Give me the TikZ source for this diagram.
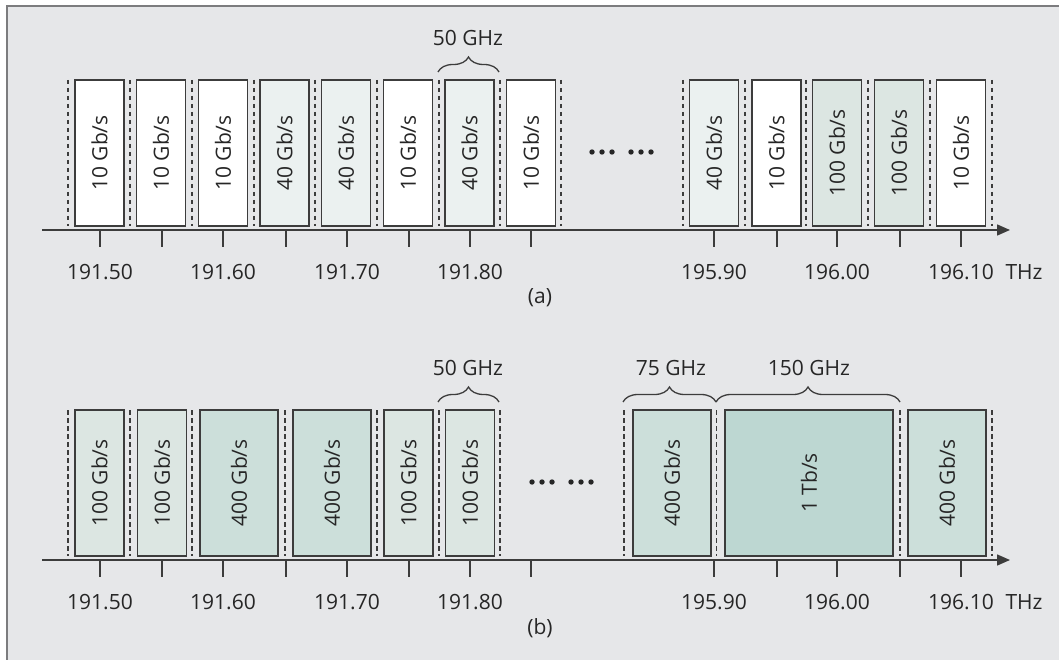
\documentclass[tikz,border=0pt]{standalone}
\usepackage{fontspec}
\setmainfont{Open Sans}
\usetikzlibrary{arrows.meta, positioning, decorations.pathreplacing}

\definecolor{bgray}{HTML}{E6E7E9}
\definecolor{frameline}{HTML}{7C7C7E}
\definecolor{ink}{HTML}{3C3C3C}
\definecolor{txt}{HTML}{262626}
\definecolor{ch10}{HTML}{FFFFFF}
\definecolor{ch40}{HTML}{EBF1F0}
\definecolor{ch100}{HTML}{DCE6E2}
\definecolor{ch400}{HTML}{CCDFDA}
\definecolor{ch1t}{HTML}{BDD7D2}

\tikzset{
    chan/.style={rectangle, draw=ink, line width=1.4pt, rotate=90, minimum width=146pt, minimum height=49pt, inner sep=0pt, text=txt, font=\fontsize{21}{25}\selectfont},
    grid/.style={draw=ink, line width=1.2pt, dash pattern=on 4.5pt off 3.5pt},
    axis/.style={draw=ink, line width=1.5pt},
    tick/.style={draw=ink, line width=1.3pt},
    lbl/.style={text=txt, font=\fontsize{21}{25}\selectfont, inner sep=0pt},
    gbrace/.style={draw=ink, line width=1.3pt, decorate, decoration={brace, amplitude=15pt}}
}

\begin{document}
\begin{tikzpicture}[x=1pt, y=-1pt]
    % Background and frame
    \useasboundingbox (0,0) rectangle (1059,660);
    \fill[bgray] (7,6) rectangle (1059,660);
    \draw[frameline, line width=2pt] (7,660) -- (7,6) -- (1059,6);

    % ---------- (a) fixed grid ----------
    \foreach \x in {68,130,192,254,315,377,439,500,561,683,745,806,868,930,992}
        \draw[grid] (\x,80) -- (\x,226);

    \node[chan, fill=ch10] (a1) at (99.5,153) {10 Gb/s};
    \node[chan, fill=ch10] (a2) at (161,153) {10 Gb/s};
    \node[chan, fill=ch10] (a3) at (223,153) {10 Gb/s};
    \node[chan, fill=ch40] (a4) at (284.5,153) {40 Gb/s};
    \node[chan, fill=ch40] (a5) at (346,153) {40 Gb/s};
    \node[chan, fill=ch10] (a6) at (408,153) {10 Gb/s};
    \node[chan, fill=ch40] (a7) at (469.5,153) {40 Gb/s};
    \node[chan, fill=ch10] (a8) at (531,153) {10 Gb/s};
    \node[chan, fill=ch40] (a9) at (714,153) {40 Gb/s};
    \node[chan, fill=ch10] (a10) at (776.5,153) {10 Gb/s};
    \node[chan, fill=ch100] (a11) at (837,153) {100 Gb/s};
    \node[chan, fill=ch100] (a12) at (899,153) {100 Gb/s};
    \node[chan, fill=ch10] (a13) at (961,153) {10 Gb/s};

    \foreach \x in {592,602,612,631,641,651}
        \fill[txt] (\x,152) circle (2.7pt);

    % brace over one slot
    \coordinate (ga1) at (438,72);
    \coordinate (ga2) at (499,72);
    \draw[gbrace] (ga1) -- (ga2);
    \node[lbl] (ga) at (468,38) {50 GHz};

    % axis
    \coordinate (xa0) at (42,230);
    \coordinate (xa1) at (1010,230);
    \draw[axis, -{Triangle[length=13pt, width=11pt]}] (xa0) -- (xa1);
    \foreach \x in {100,162,223,286,347,409,470,531,714,777,837,900,961}
        \draw[tick] (\x,231) -- (\x,247);
    \foreach \x/\f [count=\i] in {100/191.50, 223/191.60, 347/191.70, 470/191.80, 714/195.90, 837/196.00, 961/196.10}
        \node[lbl] (fa\i) at (\x,272) {\f};
    \node[lbl] (ua) at (1024,272) {THz};
    \node[lbl] (capa) at (540,298) {(a)};

    % ---------- (b) flexible grid ----------
    \foreach \x in {68,130,192,285,377,439,500,624,716.5,900}
        \draw[grid] (\x,410) -- (\x,556);
    \draw[grid, line width=2.6pt] (992,410) -- (992,556);

    \node[chan, fill=ch100] (b1) at (99.5,483) {100 Gb/s};
    \node[chan, fill=ch100] (b2) at (162,483) {100 Gb/s};
    \node[chan, fill=ch400, minimum height=78pt] (b3) at (239,483) {400 Gb/s};
    \node[chan, fill=ch400, minimum height=78pt] (b4) at (332,483) {400 Gb/s};
    \node[chan, fill=ch100] (b5) at (408.5,483) {100 Gb/s};
    \node[chan, fill=ch100] (b6) at (470,483) {100 Gb/s};
    \node[chan, fill=ch400, minimum height=78pt] (b7) at (672,483) {400 Gb/s};
    \node[chan, fill=ch1t, minimum height=168pt] (b8) at (809,483) {1 Tb/s};
    \node[chan, fill=ch400, minimum height=78pt] (b9) at (947,483) {400 Gb/s};

    \foreach \x in {532,542,552,571,581,591}
        \fill[txt] (\x,482) circle (2.7pt);

    % braces over slots of different widths
    \coordinate (gb1) at (438,402);
    \coordinate (gb2) at (499,402);
    \coordinate (gb3) at (623,402);
    \coordinate (gb4) at (716,402);
    \coordinate (gb5) at (900,402);
    \draw[gbrace] (gb1) -- (gb2);
    \draw[gbrace] (gb3) -- (gb4);
    \draw[gbrace] (gb4) -- (gb5);
    \node[lbl] (gbx) at (468,368) {50 GHz};
    \node[lbl] (gby) at (671,368) {75 GHz};
    \node[lbl] (gbz) at (809,368) {150 GHz};

    % axis
    \coordinate (xb0) at (42,560);
    \coordinate (xb1) at (1010,560);
    \draw[axis, -{Triangle[length=13pt, width=11pt]}] (xb0) -- (xb1);
    \foreach \x in {100,162,223,286,347,409,470,531,714,777,837,900,961}
        \draw[tick] (\x,561) -- (\x,577);
    \foreach \x/\f [count=\i] in {100/191.50, 223/191.60, 347/191.70, 470/191.80, 714/195.90, 837/196.00, 961/196.10}
        \node[lbl] (fb\i) at (\x,602) {\f};
    \node[lbl] (ub) at (1024,602) {THz};
    \node[lbl] (capb) at (540,628) {(b)};
\end{tikzpicture}
\end{document}
